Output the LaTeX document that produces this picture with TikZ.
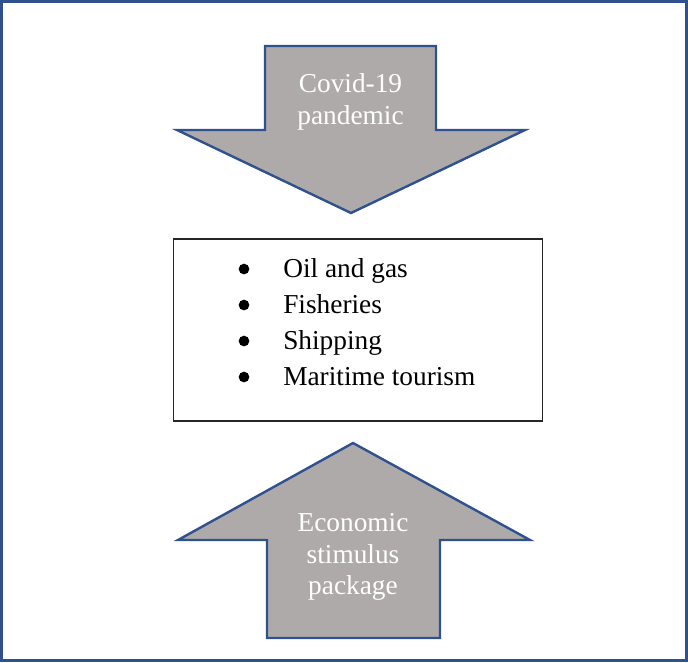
\documentclass[tikz,border=0pt]{standalone}
\usepackage{fontspec}
\setmainfont{Liberation Serif}
\definecolor{frameblue}{HTML}{2F528F}
\definecolor{arrowgray}{HTML}{AEAAAA}
\begin{document}
\begin{tikzpicture}[x = 0.75pt, y = -0.75pt,
		bigarrow/.style = {fill = arrowgray, draw = frameblue, line width = 1.8pt, line join = miter},
		arrowtext/.style = {text = white, align = center, font = \fontsize{20.5}{24}\selectfont},
		listbox/.style = {draw = black!85, line width = 1.2pt, minimum width = 276.75pt, minimum height = 136.5pt},
		item/.style = {anchor = base west, inner sep = 0pt, font = \fontsize{20.5}{27}\selectfont}]
		\useasboundingbox (0, 0) rectangle (688, 662);
		\draw[frameblue, line width = 2.4pt] (1.6, 1.6) rectangle (686.4, 660.4);
		\draw[bigarrow] (265, 46) -- (436, 46) -- (436, 130) -- (525, 130) -- (351, 213) -- (177, 130) -- (265, 130) -- cycle;
		\node[arrowtext] (covid) at (350.5, 102) {Covid-19 \\ pandemic};
		\node[listbox] (sectors) at (358, 330) {};
		\foreach \name/\txt [count = \i] in {oil/Oil and gas, fish/Fisheries, ship/Shipping, tour/Maritime tourism} {
			\node[item] (\name) at (283, 241 + 36*\i) {\txt};
			\fill (244, 233 + 36*\i) circle (4pt);
		}
		\draw[bigarrow] (353, 443) -- (530, 540) -- (440, 540) -- (440, 638) -- (267, 638) -- (267, 540) -- (178, 540) -- cycle;
		\node[arrowtext, font = \fontsize{20.5}{23.6}\selectfont] (stimulus) at (353, 557) {Economic \\ stimulus \\ package};
	\end{tikzpicture}
\end{document}
